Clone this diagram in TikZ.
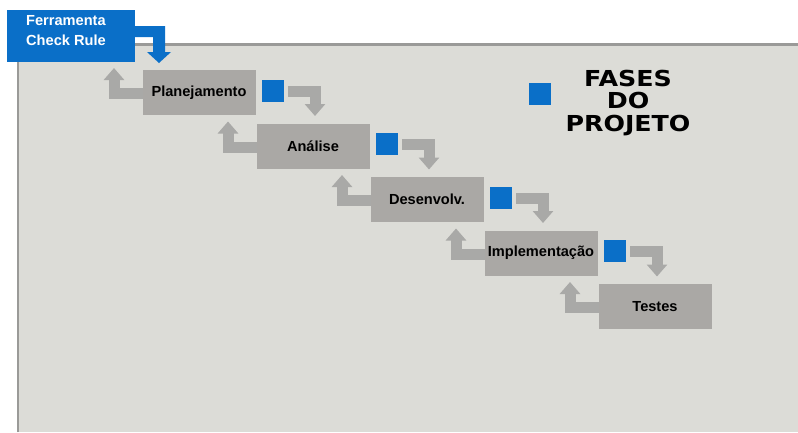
\documentclass[tikz,border=0pt]{standalone}
\usepackage{fontspec}
\setmainfont{Liberation Sans}
\newfontfamily\titlefont[FakeStretch=1.15]{DejaVu Sans}
\usetikzlibrary{arrows.meta,calc}
\definecolor{panelfill}{HTML}{DCDCD7}
\definecolor{panelline}{HTML}{9A9A98}
\definecolor{boxgray}{HTML}{AAA8A5}
\definecolor{arrgray}{HTML}{A9A9A7}
\definecolor{cblue}{HTML}{0A6FC8}
\tikzset{
  phase/.style={rectangle, fill=boxgray, minimum width=113pt, minimum height=45pt,
    inner sep=0pt, font=\fontsize{14.6}{16}\selectfont\bfseries, text=black},
  bluesq/.style={rectangle, fill=cblue, minimum width=22pt, minimum height=22pt, inner sep=0pt},
  garrow/.style={draw=arrgray, line width=11pt, line join=miter,
    -{Triangle[width=20pt,length=12pt]}},
}
\begin{document}
\begin{tikzpicture}[x=1pt,y=-1pt]
\useasboundingbox (0,0) rectangle (798,432);
\fill[white] (0,0) rectangle (798,432);
% panel
\fill[panelfill] (17,44) rectangle (798,432);
\draw[panelline, line width=2.5pt] (18,432) -- (18,44.5) -- (798,44.5);
% blue tool box and arrow
\fill[cblue] (135,26) -- (165,26) -- (165,52) -- (171,52) -- (159,63) -- (147,52) -- (153,52) -- (153,37) -- (135,37) -- cycle;
\node[rectangle, fill=cblue, minimum width=128pt, minimum height=52pt, inner sep=0pt] (tool) at (71,36) {};
\node[anchor=west, align=left, text=white, font=\fontsize{14.6}{20}\selectfont\bfseries, inner sep=0pt] (tooltxt) at (26,31) {Ferramenta\\Check Rule};
% phases
\foreach \i/\name/\lab in {0/p1/Planejamento,1/p2/Análise,2/p3/Desenvolv.,3/p4/Implementação,4/p5/Testes}{
  \node[phase] (\name) at ({199+114*\i},{92.5+53.5*\i}) {\lab};
  \coordinate (\name L) at ($(\name.center)+(-85,-24.5)$);
  \draw[garrow] ($(\name.center)+(-56.5,1)$) -| (\name L);
}
\foreach \name in {p1,p2,p3,p4}{
  \node[bluesq] (\name s) at ($(\name.center)+(74,-2)$) {};
  \coordinate (\name R) at ($(\name.center)+(116,23.5)$);
  \draw[garrow] ($(\name s.east)+(4,0.5)$) -| (\name R);
}
% legend
\node[bluesq] (leg) at (540,94) {};
\node[align=center, font=\titlefont\fontsize{22}{22.5}\selectfont\bfseries, inner sep=0pt] (title) at (628,103) {FASES\\DO\\PROJETO};
\end{tikzpicture}
\end{document}
